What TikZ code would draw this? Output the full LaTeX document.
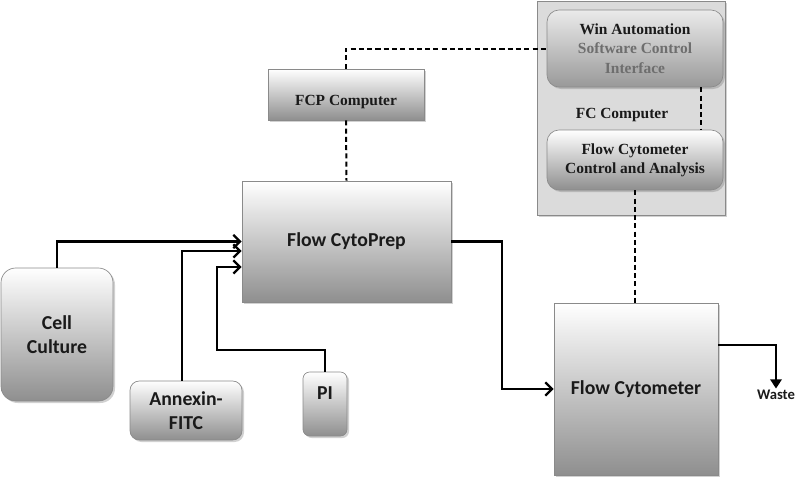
\documentclass[tikz,border=0pt]{standalone}
\usepackage{fontspec}
\newfontfamily\calfont{Carlito}
\newfontfamily\tmsfont{Liberation Serif}
\usetikzlibrary{arrows.meta,shadows,calc}
\definecolor{txt}{HTML}{1A1A1A}
\definecolor{softtxt}{HTML}{6E6E6E}
\definecolor{edge}{HTML}{8A8A8A}
\tikzset{
  shadebox/.style={draw=edge, line width=0.5pt, top color=white, middle color=black!9, bottom color=black!44,
    drop shadow={shadow xshift=1.5pt, shadow yshift=-1.5pt, opacity=0.3, fill=black!60},
    inner sep=2pt, align=center, text=txt},
  sanslbl/.style={font=\calfont\bfseries\fontsize{14.8}{18}\selectfont},
  seriflbl/.style={font=\tmsfont\bfseries\fontsize{11.6}{14.5}\selectfont},
  flow/.style={line width=2pt, -{Straight Barb[length=5pt,width=10pt,line width=1.7pt]}},
  link/.style={line width=1.5pt, dash pattern=on 3.8pt off 2.4pt},
}
\begin{document}
\begin{tikzpicture}[x=0.75pt,y=-0.75pt]
\useasboundingbox (0,0) rectangle (796,479);
% FC computer enclosure
\node[draw=edge, fill=black!14, line width=0.5pt, minimum width=141pt, minimum height=160.5pt,
  drop shadow={shadow xshift=1.5pt, shadow yshift=-1.5pt, opacity=0.3, fill=black!60}] (fcbox) at (631,108) {};
\node[shadebox, seriflbl, rounded corners=9pt, top color=black!8, middle color=black!17, bottom color=black!40,
  minimum width=132pt, minimum height=57.75pt] (win) at (635,48.5)
  {Win Automation\\\textcolor{softtxt}{Software Control}\\\textcolor{softtxt}{Interface}};
\node[seriflbl, text=txt] (fclabel) at (622,115) {FC Computer};
\node[shadebox, seriflbl, rounded corners=9pt, minimum width=132pt, minimum height=45pt] (fcctrl) at (635,160)
  {Flow Cytometer\\Control and Analysis};
% FCP computer
\node[shadebox, minimum width=117pt, minimum height=38.25pt] (fcp) at (346,94.5) {};
\node[seriflbl, text=txt] (fcptext) at (346,102) {FCP Computer};
% Main boxes
\node[shadebox, sanslbl, minimum width=156.75pt, minimum height=90.75pt] (prep) at (346.5,241.5) {Flow CytoPrep};
\node[shadebox, sanslbl, rounded corners=11pt, minimum width=84pt, minimum height=99.75pt] (cell) at (57,334.5) {Cell\\Culture};
\node[shadebox, sanslbl, rounded corners=7pt, minimum width=84pt, minimum height=44.25pt] (annex) at (186,410.5) {Annexin-\\FITC};
\node[shadebox, rounded corners=5pt, minimum width=33pt, minimum height=48pt] (pi) at (325,404) {};
\node[sanslbl, text=txt] (pitext) at (325,393) {PI};
\node[shadebox, sanslbl, minimum width=123pt, minimum height=129pt] (fcyt) at (636,389) {Flow Cytometer};
\node[font=\calfont\bfseries\fontsize{11}{13}\selectfont, text=txt, inner sep=1pt] (waste) at (776,395) {Waste};
% coordinates
\coordinate (in2) at ([yshift=-7.1pt]prep.west);
\coordinate (in3) at ([yshift=-19.1pt]prep.west);
\coordinate (pibend) at (217,350);
\coordinate (mid) at (502,300);
\coordinate (wout) at ([yshift=33pt]fcyt.east);
% flows
\draw[flow] (cell.north) |- (prep.west);
\draw[flow] ([xshift=-3pt]annex.north) |- (in2);
\draw[flow] (pi.north) |- (pibend) |- (in3);
\draw[flow] (prep.east) -| (mid) |- (fcyt.west);
\draw[line width=2pt, -{Triangle[length=7pt,width=8.5pt]}] (wout) -| (waste.north);
% data links
\draw[link] (fcp.north) |- (win.west);
\draw[link] (fcp.south) -- (prep.north);
\draw[link] ([xshift=49.5pt]win.south) -- ([xshift=49.5pt]fcctrl.north);
\draw[link] (fcctrl.south) -- (fcctrl.south |- fcyt.north);
\end{tikzpicture}
\end{document}
